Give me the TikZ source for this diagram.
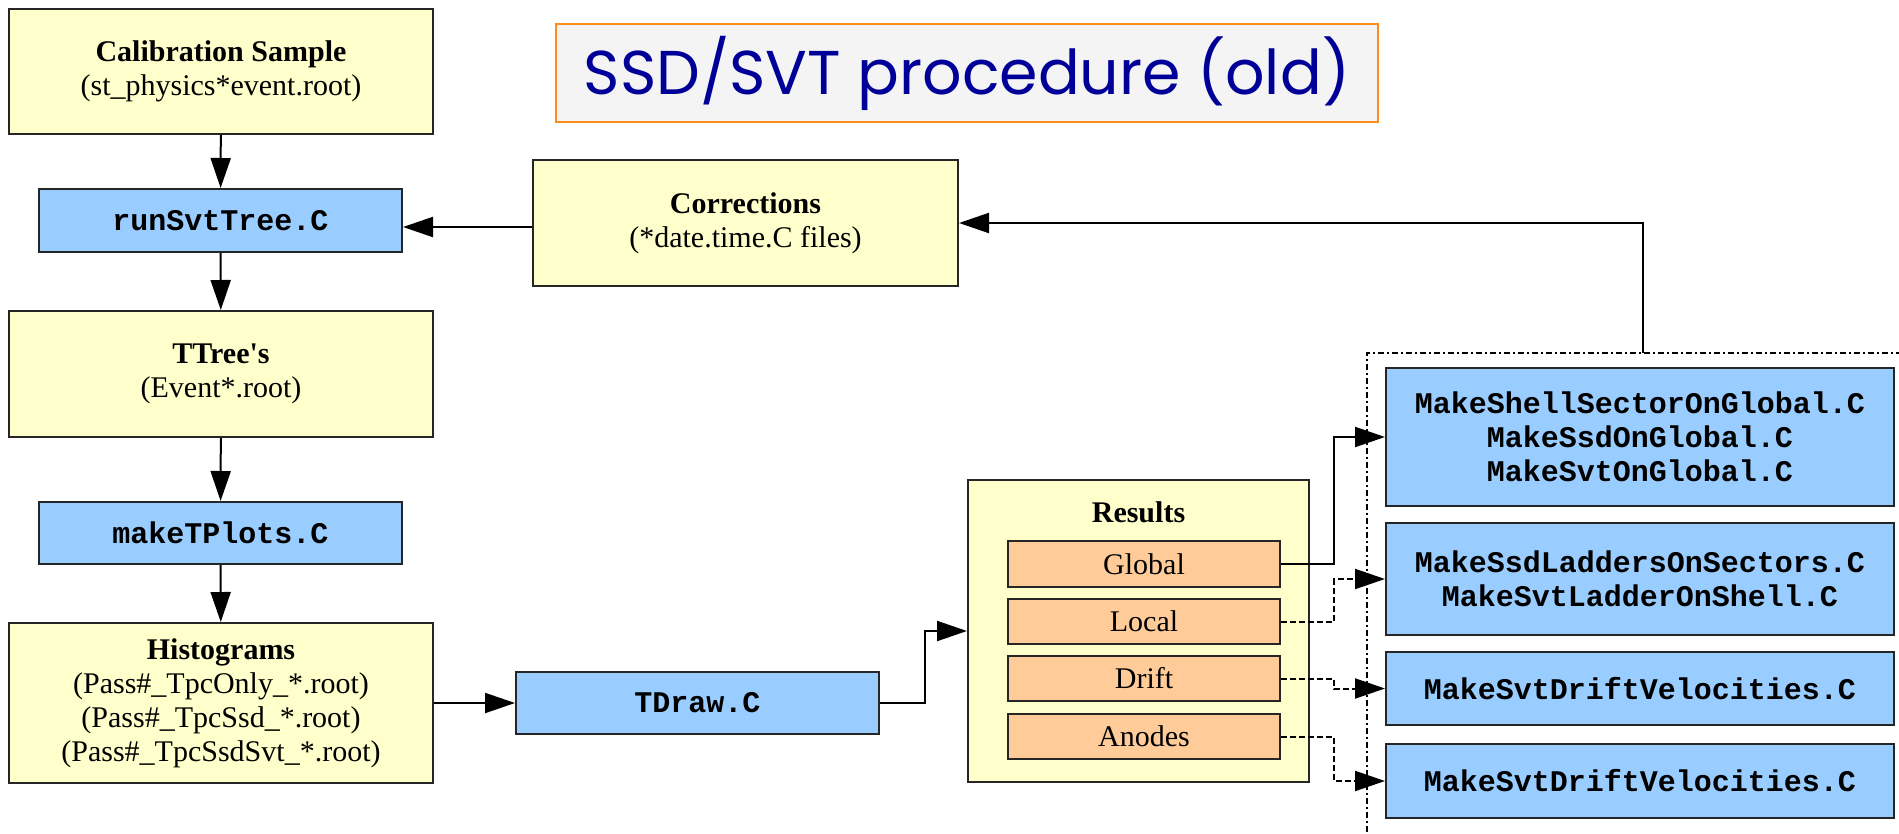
\documentclass[tikz,border=0pt]{standalone}
\usepackage{fontspec}
\setmainfont{Liberation Serif}[Ligatures=TeXOff]
\setmonofont{Liberation Mono}
\newfontfamily\titlefont{Poppins}
\usetikzlibrary{arrows.meta}

\definecolor{noteyellow}{HTML}{FFFFCC}
\definecolor{codeblue}{HTML}{99CCFF}
\definecolor{partorange}{HTML}{FFCC99}
\definecolor{titlegray}{HTML}{F4F4F4}
\definecolor{titleedge}{HTML}{FF8C1A}
\definecolor{titleink}{HTML}{000099}
\definecolor{edgegray}{HTML}{262626}

\tikzset{
  boxbase/.style={draw=edgegray, line width=2pt, inner sep=0pt, align=center,
    font=\fontsize{30}{34}\selectfont},
  databox/.style={boxbase, fill=noteyellow},
  codebox/.style={boxbase, fill=codeblue, font=\fontsize{30}{34}\selectfont\ttfamily\bfseries},
  partbox/.style={boxbase, fill=partorange},
  arr/.style={draw=black, line width=2pt, -{Triangle[length=30pt,width=20pt]}},
  dasharr/.style={arr, dash pattern=on 6pt off 3pt},
  clusterline/.style={draw=black, line width=1.6pt, dash pattern=on 6pt off 3pt on 2pt off 3pt}
}

\begin{document}
\begin{tikzpicture}[x=1pt, y=-1pt]
\path[use as bounding box] (0,0) rectangle (1899,833);
\clip (0,0) rectangle (1899,833);

% title banner
\node[draw=titleedge, line width=2pt, fill=titlegray, minimum width=822, minimum height=98, inner sep=0pt]
  (title) at (967,73) {\resizebox{766pt}{!}{\titlefont\color{titleink}SSD/SVT procedure (old)}};

% left column: data and macros
\node[databox, minimum width=424, minimum height=125] (calib) at (221,71.5)
  {\textbf{Calibration Sample}\\(st\_physics*event.root)};
\node[codebox, minimum width=363, minimum height=63] (run) at (220.5,220.5) {runSvtTree.C};
\node[databox, minimum width=424, minimum height=126] (ttree) at (221,374)
  {\textbf{TTree's}\\(Event*.root)};
\node[codebox, minimum width=363, minimum height=62] (mkplots) at (220.5,533) {makeTPlots.C};
\node[databox, minimum width=424, minimum height=160] (hist) at (221,703)
  {\textbf{Histograms}\\(Pass\#\_TpcOnly\_*.root)\\(Pass\#\_TpcSsd\_*.root)\\(Pass\#\_TpcSsdSvt\_*.root)};

% corrections and drawing
\node[databox, minimum width=425, minimum height=126] (corr) at (745.5,223)
  {\textbf{Corrections}\\(*date.time.C files)};
\node[codebox, minimum width=363, minimum height=62] (tdraw) at (697.5,703) {TDraw.C};

% results group
\node[databox, minimum width=341, minimum height=302] (results) at (1138.5,631) {};
\node[font=\fontsize{30}{34}\selectfont\bfseries, inner sep=0pt] (restitle) at (1138.5,512) {Results};
\node[partbox, minimum width=272, minimum height=46] (global) at (1144,564) {Global};
\node[partbox, minimum width=272, minimum height=45] (local) at (1144,621.5) {Local};
\node[partbox, minimum width=272, minimum height=45] (drift) at (1144,678.5) {Drift};
\node[partbox, minimum width=272, minimum height=45] (anodes) at (1144,736.5) {Anodes};

% alignment macros (cluster)
\draw[clusterline] (1367,860) -- (1367,353) -- (1940,353);
\node[codebox, minimum width=508, minimum height=138] (b1) at (1640,437)
  {MakeShellSectorOnGlobal.C\\MakeSsdOnGlobal.C\\MakeSvtOnGlobal.C};
\node[codebox, minimum width=508, minimum height=112] (b2) at (1640,579)
  {MakeSsdLaddersOnSectors.C\\MakeSvtLadderOnShell.C};
\node[codebox, minimum width=508, minimum height=73] (b3) at (1640,688.5) {MakeSvtDriftVelocities.C};
\node[codebox, minimum width=508, minimum height=74] (b4) at (1640,781) {MakeSvtDriftVelocities.C};

% connectors
\coordinate (corrline) at (0,227);
\coordinate (fbtop) at (1643,353);
\draw[arr] (calib) -- (run);
\draw[arr] (run) -- (ttree);
\draw[arr] (ttree) -- (mkplots);
\draw[arr] (mkplots) -- (hist);
\draw[arr] (corr.west |- corrline) -- (run.east |- corrline);
\draw[arr] (fbtop) |- (corr.east);
\draw[arr] (hist.east) -- (tdraw.west);
\draw[arr] (tdraw.east) -- ++(45,0) |- (results.west);
\draw[arr] (global.east) -- ++(53,0) |- (b1.west);
\draw[dasharr] (local.east) -- ++(53,0) |- (b2.west);
\draw[dasharr] (drift.east) -- ++(53,0) |- (b3.west);
\draw[dasharr] (anodes.east) -- ++(53,0) |- (b4.west);
\end{tikzpicture}
\end{document}
